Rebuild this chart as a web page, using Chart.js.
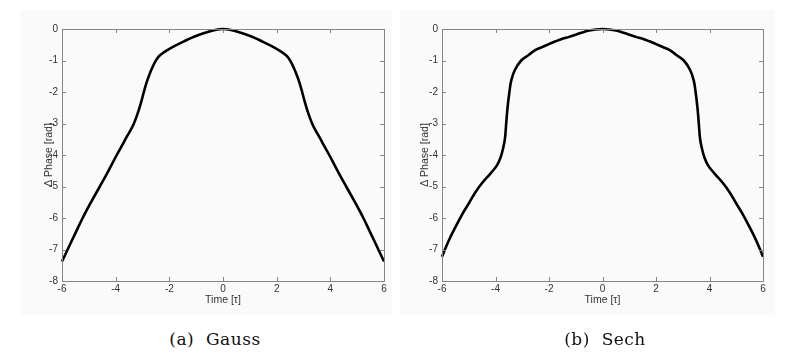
<!DOCTYPE html>
<html>
<head>
<meta charset="utf-8">
<script src="https://cdn.jsdelivr.net/npm/chart.js@4"></script>
<style>
  html, body { margin: 0; padding: 0; background: #ffffff; }
  body { width: 790px; height: 355px; position: relative; overflow: hidden; }
  .panel { position: absolute; background: #fafafa; }
  .wrap { position: absolute; top: 0; width: 395px; height: 320px; }
  .caption { position: absolute; top: 329px; line-height: 20px; font-family: "DejaVu Serif", "Liberation Serif", serif; font-size: 17px; letter-spacing: 0.5px; color: #111; white-space: pre; transform: translateX(-50%); }
</style>
</head>
<body>
<div class="panel" style="left:20px;top:10px;width:372px;height:305px;"></div>
<div class="panel" style="left:400px;top:10px;width:375px;height:305px;"></div>
<div class="wrap" style="left:0px;"><canvas id="cGauss" width="395" height="320"></canvas></div>
<div class="wrap" style="left:380px;"><canvas id="cSech" width="395" height="320"></canvas></div>
<div class="caption" id="capA" style="left:215px;"></div>
<div class="caption" id="capB" style="left:605px;"></div>
<script>
// ---- data ----
const xTicks = [-6, -4, -2, 0, 2, 4, 6];
const yTicks = [0, -1, -2, -3, -4, -5, -6, -7, -8];
const xLabel = "Time [\u03c4]";
const yLabel = "\u0394 Phase [rad]";
const captions = ["(a)  Gauss", "(b)  Sech"];

// Gauss: left half (t <= 0), mirrored for t > 0
const timeGaussHalf  = [-6, -5.79, -5.5, -5.23, -4.9, -4.59, -4.3, -3.96, -3.75, -3.6, -3.45, -3.32, -3.18, -3.05, -2.95, -2.84, -2.73, -2.62, -2.52, -2.4, -2.25, -2.09, -1.78, -1.47, -1.2, -0.91, -0.6, -0.3, 0];
const phaseGaussHalf = [-7.38, -7.0, -6.48, -6.0, -5.47, -5.0, -4.55, -4.0, -3.68, -3.44, -3.22, -3.0, -2.68, -2.32, -2.0, -1.68, -1.42, -1.2, -1.03, -0.88, -0.77, -0.68, -0.53, -0.40, -0.29, -0.19, -0.1, -0.03, 0];

// Sech: left half (t <= 0), mirrored for t > 0
const timeSechHalf  = [-6, -5.75, -5.5, -5.25, -5, -4.75, -4.5, -4.19, -3.94, -3.8, -3.72, -3.65, -3.6, -3.55, -3.48, -3.41, -3.28, -3.04, -2.75, -2.5, -2.25, -2, -1.75, -1.5, -1.25, -1, -0.75, -0.5, -0.25, 0];
const phaseSechHalf = [-7.23, -6.72, -6.29, -5.89, -5.54, -5.18, -4.89, -4.59, -4.32, -4.05, -3.8, -3.5, -3.0, -2.5, -2.0, -1.63, -1.31, -1.0, -0.82, -0.66, -0.57, -0.48, -0.39, -0.31, -0.25, -0.18, -0.11, -0.05, -0.015, 0];

document.getElementById('capA').textContent = captions[0];
document.getElementById('capB').textContent = captions[1];

function mirror(ts, ps) {
  const pts = ts.map((t, i) => ({ x: t, y: ps[i] }));
  for (let i = ts.length - 2; i >= 0; i--) pts.push({ x: -ts[i], y: ps[i] });
  return pts;
}

const frameColor = '#858585';
const tickText = '#333333';

const framePlugin = {
  id: 'frameTicks',
  afterDatasetsDraw(chart) {
    const { ctx, chartArea: a, scales } = chart;
    const xs = scales.x, ys = scales.y;
    ctx.save();
    ctx.strokeStyle = frameColor;
    ctx.lineWidth = 1;
    ctx.beginPath();
    ctx.rect(Math.round(a.left) + 0.5, Math.round(a.top) + 0.5, Math.round(a.right - a.left), Math.round(a.bottom - a.top));
    ctx.stroke();
    const L = 4;
    ctx.beginPath();
    xTicks.forEach(v => {
      const px = Math.round(xs.getPixelForValue(v)) + 0.5;
      ctx.moveTo(px, a.bottom); ctx.lineTo(px, a.bottom - L);
      ctx.moveTo(px, a.top); ctx.lineTo(px, a.top + L);
    });
    yTicks.forEach(v => {
      const py = Math.round(ys.getPixelForValue(v)) + 0.5;
      ctx.moveTo(a.left, py); ctx.lineTo(a.left + L, py);
      ctx.moveTo(a.right, py); ctx.lineTo(a.right - L, py);
    });
    ctx.stroke();
    ctx.restore();
  }
};

function makeChart(id, data, padRight, yTitlePad) {
  return new Chart(document.getElementById(id), {
    type: 'scatter',
    data: {
      datasets: [{
        data: data,
        showLine: true,
        borderColor: '#000000',
        borderWidth: 2.6,
        pointRadius: 0,
        fill: false,
        tension: 0.4
      }]
    },
    options: {
      responsive: false,
      animation: false,
      clip: false,
      layout: { padding: { left: 0, right: padRight, top: 29, bottom: 0 } },
      plugins: { legend: { display: false }, tooltip: { enabled: false } },
      scales: {
        x: {
          type: 'linear', min: -6, max: 6,
          afterBuildTicks: s => { s.ticks = xTicks.map(v => ({ value: v })); },
          afterFit: s => { s.height = 39; },
          grid: { display: false, drawTicks: false, tickLength: 0 },
          border: { display: false },
          ticks: { color: tickText, font: { family: 'Liberation Sans', size: 10 }, padding: 2, maxRotation: 0, autoSkip: false, callback: v => String(v) },
          title: { display: true, text: xLabel, color: tickText, font: { family: 'Liberation Sans', size: 10.5 }, padding: { top: 0, bottom: 14 } }
        },
        y: {
          type: 'linear', min: -8, max: 0,
          afterBuildTicks: s => { s.ticks = yTicks.map(v => ({ value: v })); },
          afterFit: s => { s.width = 62; },
          grid: { display: false, drawTicks: false, tickLength: 0 },
          border: { display: false },
          ticks: { color: tickText, font: { family: 'Liberation Sans', size: 10 }, padding: 4, autoSkip: false, callback: v => String(v) },
          title: { display: true, text: yLabel, color: tickText, font: { family: 'Liberation Sans', size: 10.5 }, padding: { top: yTitlePad, bottom: 0 } }
        }
      }
    },
    plugins: [framePlugin]
  });
}

makeChart('cGauss', mirror(timeGaussHalf, phaseGaussHalf), 11, 43);
makeChart('cSech', mirror(timeSechHalf, phaseSechHalf), 12, 39);
</script>
</body>
</html>
